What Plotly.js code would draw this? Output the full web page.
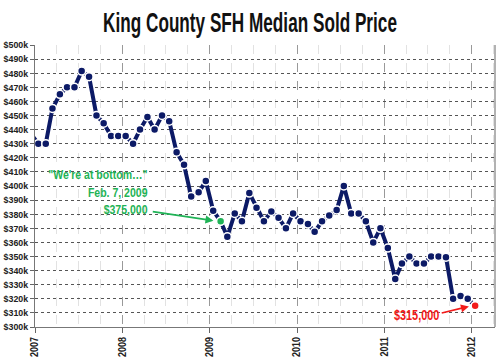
<!DOCTYPE html>
<html><head><meta charset="utf-8">
<script src="https://cdn.plot.ly/plotly-3.0.1.min.js"></script>
<style>html,body{margin:0;padding:0;background:#fff}#chart{width:500px;height:363px}</style>
</head><body><div id="chart"></div>
<script>
const months = [
 "2006-12-15",
 "2007-01-15","2007-02-15","2007-03-15","2007-04-15","2007-05-15","2007-06-15","2007-07-15","2007-08-15","2007-09-15","2007-10-15","2007-11-15","2007-12-15",
 "2008-01-15","2008-02-15","2008-03-15","2008-04-15","2008-05-15","2008-06-15","2008-07-15","2008-08-15","2008-09-15","2008-10-15","2008-11-15","2008-12-15",
 "2009-01-15","2009-02-15","2009-03-15","2009-04-15","2009-05-15","2009-06-15","2009-07-15","2009-08-15","2009-09-15","2009-10-15","2009-11-15","2009-12-15",
 "2010-01-15","2010-02-15","2010-03-15","2010-04-15","2010-05-15","2010-06-15","2010-07-15","2010-08-15","2010-09-15","2010-10-15","2010-11-15","2010-12-15",
 "2011-01-15","2011-02-15","2011-03-15","2011-04-15","2011-05-15","2011-06-15","2011-07-15","2011-08-15","2011-09-15","2011-10-15","2011-11-15","2011-12-15",
 "2012-01-15"
];
const medianPriceK = [
 437,
 430, 430, 455, 465, 470, 470, 481.5, 477.5, 450, 444.5, 435.5, 435.5,
 435.5, 430, 440, 449, 440, 450, 446, 424, 415, 392.5, 395.5, 403.5,
 382.5, 375, 364, 380.5, 375, 395, 384.5, 375, 382, 377.5, 370, 380.5,
 375, 373, 367.5, 375, 379, 383, 400, 380.5, 380.5, 375, 360, 370,
 356, 334, 345, 350, 345, 345, 350, 350, 349.5, 320, 322, 320,
 315
];
const bottomCallMonth = "2009-02-15";
const latestMonth = "2012-01-15";
const bottomCallText = "\"We're at bottom\u2026\"<br>Feb. 7, 2009<br>$375,000";
const latestText = "$315,000";

const NAVY = "#0c1a66", GREEN = "#1fb356", RED = "#f21a1a";
const FONT = "'Liberation Sans', Arial, sans-serif";

const iB = months.indexOf(bottomCallMonth), iL = months.indexOf(latestMonth);

const traces = [
 {x: months, y: medianPriceK, type: "scatter", mode: "lines+markers",
  line: {color: NAVY, width: 4},
  marker: {color: NAVY, size: 8, line: {color: "#fff", width: 1.5}},
  hoverinfo: "skip"},
 {x: [months[iB]], y: [medianPriceK[iB]], type: "scatter", mode: "markers",
  marker: {color: GREEN, size: 8, line: {color: "#fff", width: 1.5}}},
 {x: [months[iL]], y: [medianPriceK[iL]], type: "scatter", mode: "markers",
  marker: {color: RED, size: 8, line: {color: "#fff", width: 1.5}}}
];

const layout = {
 width: 500, height: 363,
 margin: {l: 35, r: 5, t: 45, b: 36},
 paper_bgcolor: "#fff", plot_bgcolor: "#fff",
 showlegend: false,
 title: {text: "King County SFH Median Sold Price", x: 0.5, xanchor: "center", y: 0.94, yanchor: "middle",
  font: {family: FONT, size: 28, color: "#111", weight: "bold"}},
 xaxis: {type: "date", range: ["2007-01-01", "2012-04-07"],
  tick0: "2007-01-01", dtick: "M12", tickformat: "%Y", tickangle: -90,
  tickfont: {family: FONT, size: 10, color: "#222", weight: "bold"},
  ticks: "outside", ticklen: 5, tickcolor: "#666",
  showgrid: true, gridcolor: "#999", griddash: "dash", gridwidth: 1,
  minor: {tickmode: "linear", tick0: "2007-01-01", dtick: "M3", showgrid: true, gridcolor: "#e2e2e2", gridwidth: 1, ticks: ""},
  showline: true, linecolor: "#777", linewidth: 1, zeroline: false, fixedrange: true},
 yaxis: {range: [300, 500], dtick: 10, tickprefix: "$", ticksuffix: "k",
  tickfont: {family: FONT, size: 9.5, color: "#222", weight: "bold"},
  ticks: "outside", ticklen: 4, tickcolor: "#666",
  showgrid: true, gridcolor: "#555", griddash: "dot", gridwidth: 1,
  showline: true, linecolor: "#777", linewidth: 1, zeroline: false, fixedrange: true},
 shapes: [{type: "line", xref: "paper", yref: "paper", x0: 1, x1: 1, y0: 0, y1: 1,
  line: {color: "#999", width: 1.5}}],
 annotations: [
  {xref: "x", yref: "y", x: "2008-04-26", y: 395.7, text: bottomCallText, showarrow: false,
   xanchor: "right", yanchor: "middle", align: "right",
   font: {family: FONT, size: 13.5, color: GREEN, weight: "bold"}},
  {xref: "x", yref: "y", x: "2009-01-16", y: 375.4, axref: "x", ayref: "y", ax: "2008-05-01", ay: 382,
   text: "", showarrow: true, arrowhead: 2, arrowsize: 1, arrowwidth: 1.6, arrowcolor: GREEN, standoff: 0},
  {xref: "x", yref: "y", x: "2011-08-28", y: 308.3, text: latestText, showarrow: false,
   xanchor: "right", yanchor: "middle", align: "right",
   font: {family: FONT, size: 14, color: RED, weight: "bold"}},
  {xref: "x", yref: "y", x: "2011-12-20", y: 314.6, axref: "x", ayref: "y", ax: "2011-08-22", ay: 309.7,
   text: "", showarrow: true, arrowhead: 2, arrowsize: 1, arrowwidth: 1.6, arrowcolor: RED, standoff: 0}
 ]
};

// narrow the text horizontally to mimic the condensed face of the original
function condense(el, s, anchorMode) {
  const bb = el.getBBox();
  let ax;
  if (anchorMode === "end") ax = bb.x + bb.width;
  else if (anchorMode === "middle") ax = bb.x + bb.width / 2;
  else ax = bb.x;
  const prev = el.getAttribute("transform") || "";
  el.setAttribute("transform", prev + " translate(" + ax + ",0) scale(" + s + ",1) translate(" + (-ax) + ",0)");
}

Plotly.newPlot("chart", traces, layout, {displayModeBar: false, staticPlot: true}).then(function (gd) {
  const title = gd.querySelector("text.gtitle");
  if (title) { const w = title.getBBox().width; condense(title, 294 / w, "middle"); }
  gd.querySelectorAll("g.ytick text").forEach(t => condense(t, 0.93, "end"));
  gd.querySelectorAll("g.xtick text").forEach(t => condense(t, 0.9, "end"));
  gd.querySelectorAll("g.annotation-text-g text").forEach(t => condense(t, 0.78, "end"));
});
</script></body></html>
